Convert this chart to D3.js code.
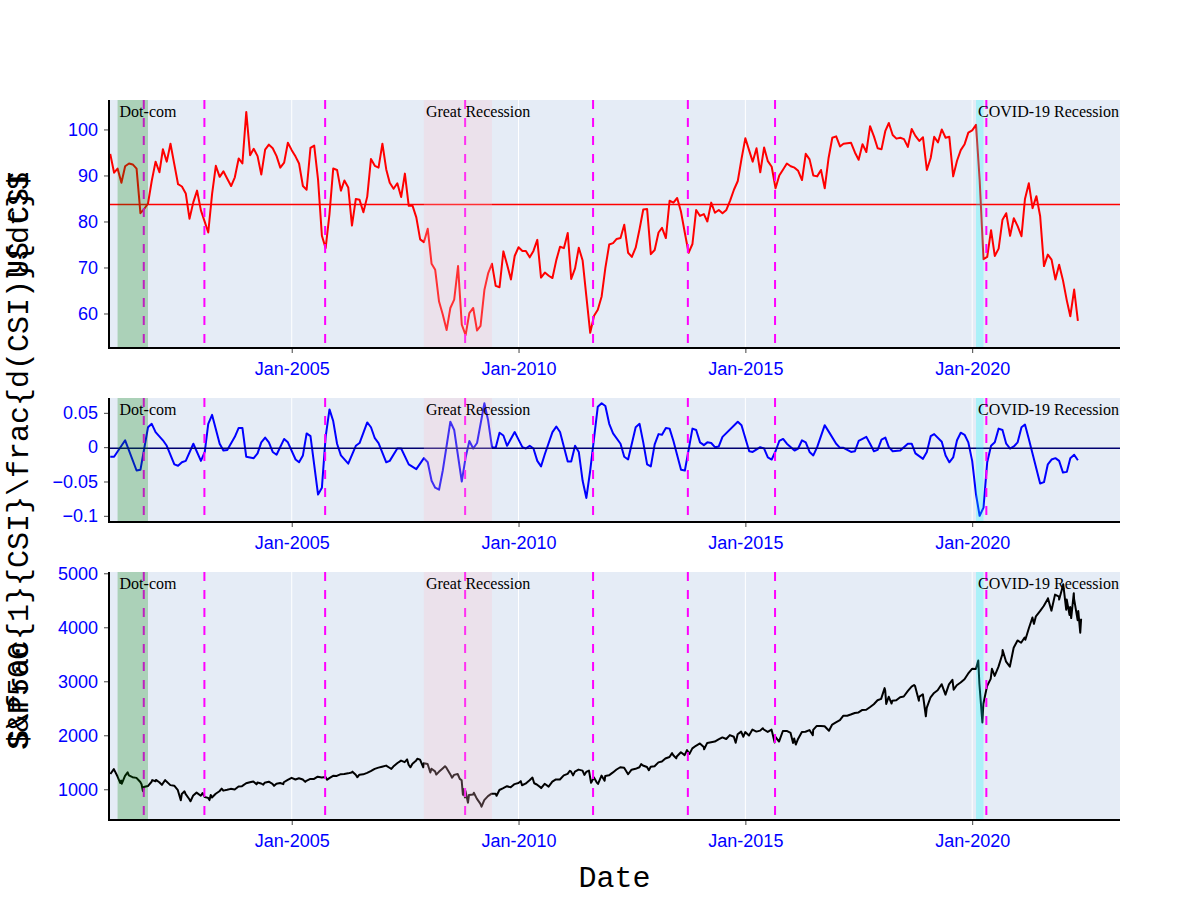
<!DOCTYPE html>
<html><head><meta charset="utf-8">
<script src="https://cdn.jsdelivr.net/npm/d3@7"></script>
<style>body{margin:0;background:#fff} svg{display:block}</style>
</head><body><svg id="c" width="1200" height="900"></svg>
<script>
// ---------------- DATA ----------------
// University of Michigan consumer sentiment index, monthly, Jan 2001 .. May 2022
const csiStart = "2001-01";
const csiValues = [
 94.7,90.6,91.5,88.4,92.0,92.6,92.4,91.5,81.8,82.7,83.9,88.8,
 93.0,90.7,95.7,93.0,96.9,92.4,88.1,87.6,86.1,80.6,84.2,86.7,
 82.4,79.9,77.6,86.0,92.1,89.7,90.9,89.3,87.7,89.6,93.7,92.6,
 103.8,94.4,95.8,94.2,90.2,95.6,96.7,95.9,94.2,91.7,92.8,97.1,
 95.5,94.1,92.6,87.7,86.9,96.0,96.5,89.1,76.9,74.2,81.6,91.5,
 91.2,86.7,88.9,87.4,79.1,84.9,84.7,82.0,85.4,93.6,92.1,91.7,
 96.9,91.3,88.4,87.1,88.3,85.3,90.4,83.4,83.4,80.9,76.1,75.5,
 78.4,70.8,69.5,62.6,59.8,56.4,61.2,63.0,70.3,57.6,55.3,60.1,
 61.2,56.3,57.3,65.1,68.7,70.8,66.0,65.7,73.5,70.6,67.4,72.5,
 74.4,73.6,73.6,72.2,73.6,76.0,67.8,68.9,68.2,67.7,71.6,74.5,
 74.2,77.5,67.5,69.8,74.3,71.5,63.7,55.8,59.5,60.8,63.7,69.9,
 75.0,75.3,76.2,76.4,79.3,73.2,72.3,74.3,78.3,82.6,82.7,72.9,
 73.8,77.6,78.6,76.4,84.5,84.1,85.1,82.1,77.5,73.2,75.1,82.5,
 81.2,81.6,80.0,84.1,81.9,82.5,81.8,82.5,84.6,86.9,88.8,93.6,
 98.1,95.4,93.0,95.9,90.7,96.1,93.1,91.9,87.2,90.0,91.3,92.6,
 92.0,91.7,91.0,89.0,94.7,93.5,90.0,89.8,91.2,87.2,93.8,98.2,
 98.5,96.3,96.9,97.0,97.1,95.0,93.4,96.8,95.1,100.7,98.5,95.9,
 95.7,99.7,101.4,98.8,98.0,98.2,97.9,96.2,100.1,98.6,97.5,98.3,
 91.2,93.8,98.4,97.2,100.0,98.2,98.4,89.8,93.2,95.5,96.8,99.3,
 99.8,101.0,89.1,71.8,72.3,78.1,72.5,74.1,80.4,81.8,76.9,80.7,
 79.0,76.8,84.9,88.3,82.9,85.5,81.2,70.3,72.8,71.7,67.4,70.6,
 67.2,62.8,59.4,65.2,58.4
];
const csiMean = 83.7;

// (1/CSI) d(CSI)/dt
const derivDates = [
 "2001-01","2001-02","2001-05","2001-08","2001-09","2001-11","2001-12",
 "2002-01","2002-03","2002-04","2002-06","2002-07","2002-08","2002-09","2002-11",
 "2003-01","2003-02","2003-03","2003-04","2003-06","2003-07","2003-08","2003-10","2003-11","2003-12",
 "2004-01","2004-03","2004-04","2004-05","2004-06","2004-07","2004-08","2004-09","2004-11","2004-12",
 "2005-02","2005-03","2005-04","2005-05","2005-06","2005-08","2005-09","2005-10","2005-11","2005-12",
 "2006-01","2006-02","2006-04","2006-06","2006-07","2006-09","2006-10","2006-11","2006-12",
 "2007-02","2007-03","2007-05","2007-06","2007-08","2007-10","2007-12",
 "2008-01","2008-02","2008-03","2008-04","2008-05","2008-07","2008-08","2008-10","2008-11","2008-12",
 "2009-01","2009-02","2009-04","2009-05","2009-06","2009-07","2009-08","2009-09","2009-10","2009-12",
 "2010-01","2010-02","2010-03","2010-04","2010-05","2010-06","2010-07","2010-08","2010-10","2010-11","2010-12",
 "2011-02","2011-03","2011-04","2011-05","2011-06","2011-07","2011-08","2011-10","2011-11","2011-12",
 "2012-01","2012-02","2012-04","2012-05","2012-06","2012-08","2012-09","2012-10","2012-11","2012-12",
 "2013-01","2013-02","2013-03","2013-04","2013-05","2013-06","2013-08","2013-09","2013-11","2013-12",
 "2014-01","2014-02","2014-03","2014-04","2014-05","2014-06","2014-07","2014-11","2014-12",
 "2015-02","2015-03","2015-05","2015-06","2015-07","2015-08","2015-09","2015-10","2015-11","2015-12",
 "2016-02","2016-03","2016-04","2016-05","2016-06","2016-07","2016-08","2016-10","2016-11",
 "2017-01","2017-02","2017-03","2017-05","2017-06","2017-07","2017-09","2017-10","2017-11","2017-12",
 "2018-01","2018-02","2018-03","2018-04","2018-06","2018-08","2018-09","2018-10","2018-12",
 "2019-01","2019-02","2019-03","2019-05","2019-06","2019-07","2019-08","2019-09","2019-10","2019-11","2019-12",
 "2020-01","2020-02","2020-03","2020-04","2020-05","2020-06","2020-07","2020-08","2020-09","2020-10","2020-11","2020-12",
 "2021-01","2021-02","2021-03","2021-04","2021-07","2021-08","2021-09","2021-10","2021-11","2021-12",
 "2022-01","2022-02","2022-03","2022-04","2022-05"
];
const derivValues = [
 -0.014,-0.014,0.010,-0.034,-0.033,0.029,0.034,
 0.022,0.010,0.002,-0.025,-0.027,-0.022,-0.020,0.005,
 -0.020,-0.007,0.034,0.047,0.005,-0.005,-0.004,0.015,0.028,0.028,
 -0.014,-0.016,-0.009,0.007,0.014,0.007,-0.007,-0.011,0.012,0.007,
 -0.018,-0.022,-0.012,0.020,0.016,-0.069,-0.059,0.015,0.055,0.038,
 0.005,-0.012,-0.024,0.002,0.006,0.036,0.029,0.013,0.006,
 -0.022,-0.020,-0.002,-0.002,-0.025,-0.032,-0.016,
 -0.022,-0.049,-0.059,-0.062,-0.034,0.037,0.025,-0.050,-0.015,0.009,
 -0.002,0.006,0.064,0.039,0.000,-0.001,0.021,0.017,0.002,0.022,
 0.011,0.000,-0.002,0.002,-0.002,-0.020,-0.028,-0.010,0.022,0.030,0.022,
 -0.021,-0.021,0.002,-0.007,-0.049,-0.074,-0.034,0.059,0.064,0.060,
 0.034,0.020,0.005,-0.014,-0.018,0.029,0.034,0.007,-0.025,-0.028,
 0.004,0.019,0.018,0.028,0.027,0.009,-0.033,-0.034,0.027,0.025,
 0.007,0.003,0.007,0.006,0.000,0.001,0.015,0.037,0.032,
 -0.006,-0.007,0.000,-0.002,-0.015,-0.018,-0.006,0.009,0.012,0.005,
 -0.005,-0.002,0.010,0.007,-0.007,-0.012,0.000,0.032,0.023,
 0.005,-0.001,-0.001,-0.007,-0.006,0.009,0.015,0.005,-0.006,-0.004,
 0.011,0.014,0.000,-0.006,-0.005,0.005,0.005,-0.009,-0.017,
 -0.007,0.016,0.019,0.008,-0.012,-0.022,-0.015,0.010,0.021,0.018,0.007,
 -0.020,-0.069,-0.100,-0.088,-0.022,0.002,0.007,0.027,0.025,0.005,-0.002,0.001,
 0.007,0.029,0.033,0.012,-0.053,-0.051,-0.025,-0.018,-0.016,-0.020,
 -0.037,-0.036,-0.016,-0.011,-0.019
];
const derivMean = -0.0015;

// S&P 500 close
const spDates = [
 "2001-01-02","2001-01-30","2001-02-28","2001-03-22","2001-03-30","2001-04-04","2001-04-30","2001-05-21","2001-05-31","2001-06-29",
 "2001-07-31","2001-08-31","2001-09-10","2001-09-21","2001-09-28","2001-10-31","2001-11-30","2001-12-05","2001-12-31",
 "2002-01-04","2002-01-31","2002-02-21","2002-02-28","2002-03-19","2002-03-28","2002-04-30","2002-05-31","2002-06-28","2002-07-23",
 "2002-07-31","2002-08-22","2002-08-30","2002-09-30","2002-10-09","2002-10-31","2002-11-27","2002-12-31",
 "2003-01-14","2003-01-31","2003-02-28","2003-03-11","2003-03-21","2003-03-31","2003-04-30","2003-05-30","2003-06-17","2003-06-30",
 "2003-07-31","2003-08-29","2003-09-30","2003-10-31","2003-11-28","2003-12-31",
 "2004-01-30","2004-02-27","2004-03-24","2004-03-31","2004-04-30","2004-05-17","2004-05-28","2004-06-30","2004-07-30","2004-08-12",
 "2004-08-31","2004-09-30","2004-10-25","2004-10-29","2004-11-30","2004-12-31",
 "2005-01-31","2005-02-28","2005-03-31","2005-04-20","2005-04-29","2005-05-31","2005-06-30","2005-07-29","2005-08-31","2005-09-30",
 "2005-10-13","2005-10-31","2005-11-30","2005-12-30",
 "2006-01-31","2006-02-28","2006-03-31","2006-04-28","2006-05-05","2006-05-31","2006-06-13","2006-06-30","2006-07-31","2006-08-31",
 "2006-09-29","2006-10-31","2006-11-30","2006-12-29",
 "2007-01-31","2007-02-27","2007-03-14","2007-03-30","2007-04-30","2007-05-31","2007-06-29","2007-07-19","2007-07-31","2007-08-15",
 "2007-08-31","2007-09-28","2007-10-09","2007-10-31","2007-11-26","2007-11-30","2007-12-31",
 "2008-01-22","2008-01-31","2008-02-29","2008-03-10","2008-03-31","2008-04-30","2008-05-19","2008-05-30","2008-06-30","2008-07-15",
 "2008-07-31","2008-08-29","2008-09-15","2008-09-30","2008-10-10","2008-10-13","2008-10-27","2008-10-31","2008-11-20","2008-11-28","2008-12-31",
 "2009-01-06","2009-01-30","2009-02-27","2009-03-09","2009-03-31","2009-04-30","2009-05-29","2009-06-30","2009-07-08","2009-07-31",
 "2009-08-31","2009-09-30","2009-10-30","2009-11-30","2009-12-31",
 "2010-01-19","2010-01-29","2010-02-26","2010-03-31","2010-04-23","2010-05-07","2010-05-28","2010-06-30","2010-07-02","2010-07-30",
 "2010-08-31","2010-09-30","2010-10-29","2010-11-30","2010-12-31",
 "2011-01-31","2011-02-18","2011-02-28","2011-03-16","2011-03-31","2011-04-29","2011-05-31","2011-06-15","2011-06-30","2011-07-22",
 "2011-08-08","2011-08-31","2011-09-22","2011-10-03","2011-10-31","2011-11-25","2011-11-30","2011-12-30",
 "2012-01-31","2012-02-29","2012-03-30","2012-04-30","2012-06-01","2012-06-29","2012-07-31","2012-08-31","2012-09-14","2012-09-28",
 "2012-10-31","2012-11-15","2012-11-30","2012-12-31",
 "2013-01-31","2013-02-28","2013-03-28","2013-04-30","2013-05-21","2013-05-31","2013-06-24","2013-06-28","2013-07-31","2013-08-30",
 "2013-09-18","2013-09-30","2013-10-08","2013-10-31","2013-11-29","2013-12-31",
 "2014-01-31","2014-02-03","2014-02-28","2014-03-31","2014-04-30","2014-05-30","2014-06-30","2014-07-31","2014-08-29","2014-09-30",
 "2014-10-15","2014-10-31","2014-11-28","2014-12-16","2014-12-31",
 "2015-01-30","2015-02-27","2015-03-31","2015-04-30","2015-05-21","2015-05-29","2015-06-30","2015-07-31","2015-08-25","2015-08-31",
 "2015-09-29","2015-10-30","2015-11-30","2015-12-31",
 "2016-01-20","2016-01-29","2016-02-11","2016-02-29","2016-03-31","2016-04-29","2016-05-31","2016-06-27","2016-06-30","2016-07-29",
 "2016-08-31","2016-09-30","2016-11-04","2016-11-30","2016-12-30",
 "2017-01-31","2017-02-28","2017-03-31","2017-04-28","2017-05-31","2017-06-30","2017-07-31","2017-08-31","2017-09-29","2017-10-31",
 "2017-11-30","2017-12-29",
 "2018-01-26","2018-01-31","2018-02-08","2018-02-28","2018-03-23","2018-03-29","2018-04-30","2018-05-31","2018-06-29","2018-07-31",
 "2018-08-31","2018-09-20","2018-09-28","2018-10-29","2018-10-31","2018-11-30","2018-12-24","2018-12-31",
 "2019-01-31","2019-02-28","2019-03-29","2019-04-30","2019-05-31","2019-06-28","2019-07-26","2019-08-05","2019-08-30","2019-09-30",
 "2019-10-31","2019-11-29","2019-12-31",
 "2020-01-31","2020-02-19","2020-02-28","2020-03-23","2020-03-31","2020-04-30","2020-05-29","2020-06-08","2020-06-30","2020-07-31",
 "2020-08-31","2020-09-02","2020-09-30","2020-10-30","2020-11-30","2020-12-31",
 "2021-01-29","2021-02-26","2021-03-04","2021-03-31","2021-04-30","2021-05-12","2021-05-28","2021-06-30","2021-07-30","2021-08-31",
 "2021-09-02","2021-09-30","2021-10-29","2021-11-30","2021-12-01","2021-12-31",
 "2022-01-03","2022-01-27","2022-01-31","2022-02-23","2022-02-28","2022-03-08","2022-03-29","2022-03-31","2022-04-29","2022-05-04",
 "2022-05-20","2022-05-27"
];
const spValues = [
 1283,1374,1240,1117,1160,1103,1249,1313,1256,1224,
 1211,1134,1093,966,1041,1060,1139,1170,1148,
 1173,1130,1081,1107,1170,1147,1077,1067,990,797,
 912,962,916,815,777,886,938,880,
 931,856,841,800,895,848,917,964,1011,975,
 990,1008,996,1051,1058,1112,
 1131,1145,1091,1126,1107,1084,1121,1141,1102,1064,
 1104,1115,1095,1130,1174,1212,
 1181,1204,1181,1137,1157,1192,1191,1234,1220,1229,
 1177,1207,1249,1248,
 1280,1281,1295,1311,1326,1270,1223,1270,1277,1304,
 1336,1378,1401,1418,
 1438,1399,1377,1421,1482,1531,1503,1553,1455,1407,
 1474,1527,1565,1549,1407,1481,1468,
 1310,1379,1331,1273,1323,1386,1427,1400,1280,1214,
 1267,1283,1193,1166,899,1003,848,969,752,896,903,
 935,826,735,677,798,873,919,919,879,987,
 1021,1057,1036,1096,1115,
 1150,1074,1104,1169,1217,1111,1089,1031,1022,1102,
 1049,1141,1183,1181,1258,
 1286,1343,1327,1257,1326,1364,1345,1266,1321,1345,
 1119,1219,1129,1099,1253,1159,1247,1258,
 1312,1366,1408,1398,1278,1362,1379,1407,1466,1441,
 1412,1353,1416,1426,
 1498,1515,1569,1598,1669,1631,1573,1606,1686,1633,
 1726,1682,1656,1757,1806,1848,
 1783,1742,1859,1872,1884,1924,1960,1931,2003,1972,
 1862,2018,2068,1973,2059,
 1995,2105,2068,2086,2131,2107,2063,2104,1868,1972,
 1884,2079,2080,2044,
 1859,1940,1829,1932,2060,2065,2097,2001,2099,2174,
 2171,2168,2085,2199,2239,
 2279,2364,2363,2384,2412,2423,2470,2472,2519,2575,
 2648,2674,
 2873,2824,2581,2714,2588,2641,2648,2705,2718,2816,
 2902,2931,2914,2641,2712,2760,2351,2507,
 2704,2784,2834,2946,2752,2942,3026,2845,2926,2977,
 3038,3141,3231,
 3226,3386,2954,2237,2585,2912,3044,3232,3100,3271,
 3500,3580,3363,3270,3622,3756,
 3714,3811,3768,3973,4181,4063,4204,4298,4395,4523,
 4537,4308,4605,4567,4513,4766,
 4797,4326,4516,4226,4374,4171,4632,4530,4132,4300,
 3901,4158
];

const recessionNames  = ["Dot-com","Great Recession","COVID-19 Recession"];
const recessionStarts = ["2001-03-01","2007-12-01","2020-02-01"];
const recessionEnds   = ["2001-11-01","2009-06-01","2020-04-01"];
const eventDates = ["2001-09-28","2003-01-29","2005-09-27","2008-10-28","2011-08-24","2013-09-25","2015-08-28","2020-04-24"];

const xTickDates  = ["2005-01-01","2010-01-01","2015-01-01","2020-01-01"];
const xTickLabels = ["Jan-2005","Jan-2010","Jan-2015","Jan-2020"];
const csiTicks = [60,70,80,90,100];
const derivTicks = [0.05,0,-0.05,-0.1];
const derivTickLabels = ["0.05","0","\u22120.05","\u22120.1"];
const spTicks = [1000,2000,3000,4000,5000];
const yTitles = ["US CSI","$\\frac{1}{CSI}\\frac{d(CSI)}{dt}$","S&P500"];
const xTitle = "Date";

// ---------------- DRAW ----------------
const parseDay = d3.utcParse("%Y-%m-%d");
const parseMonth = d3.utcParse("%Y-%m");
const svg = d3.select("#c");
const L = 109, R = 1120;
const x = d3.scaleUtc().domain([parseDay("2000-12-22"), parseDay("2023-04-05")]).range([L, R]);

const csi0 = parseMonth(csiStart);
const csiData = csiValues.map((v,i)=>({d:d3.utcMonth.offset(csi0,i), v}));
const derivData = derivDates.map((s,i)=>({d:parseMonth(s), v:derivValues[i]}));
const spData = spDates.map((s,i)=>({d:parseDay(s), v:spValues[i]}));

const shadeFill = ["green","pink","cyan"];
const tickFont = "'Liberation Sans', Arial, sans-serif";
const monoFont = "'Liberation Mono', 'Courier New', monospace";
const serifFont = "'Liberation Serif', 'Times New Roman', serif";

const panels = [
  {top:100, bottom:348, domain:[52.5,106.4], data:csiData, color:"red", mean:csiMean, meanColor:"red",
   ticks:csiTicks, labels:csiTicks.map(String), title:yTitles[0]},
  {top:398, bottom:522, domain:[-0.109,0.0716], data:derivData, color:"blue", mean:derivMean, meanColor:"#000070",
   ticks:derivTicks, labels:derivTickLabels, title:yTitles[1]},
  {top:572, bottom:820, domain:[431,5024], data:spData, color:"black", mean:null,
   ticks:spTicks, labels:spTicks.map(String), title:yTitles[2]}
];

panels.forEach((p,pi)=>{
  const y = d3.scaleLinear().domain(p.domain).range([p.bottom, p.top]);
  const g = svg.append("g");
  const clipId = "clip"+pi;
  svg.append("clipPath").attr("id",clipId).append("rect")
    .attr("x",L).attr("y",p.top).attr("width",R-L).attr("height",p.bottom-p.top);

  g.append("rect").attr("x",L).attr("y",p.top).attr("width",R-L).attr("height",p.bottom-p.top)
    .attr("fill","#E5ECF6");
  // vertical grid
  g.selectAll(".grid").data(xTickDates).join("line")
    .attr("x1",d=>x(parseDay(d))).attr("x2",d=>x(parseDay(d)))
    .attr("y1",p.top).attr("y2",p.bottom).attr("stroke","#fff").attr("stroke-width",1);

  const inner = g.append("g").attr("clip-path",`url(#${clipId})`);
  const line = d3.line().x(d=>x(d.d)).y(d=>y(d.v));
  inner.append("path").datum(p.data).attr("d",line).attr("fill","none")
    .attr("stroke",p.color).attr("stroke-width",2).attr("stroke-linejoin","round");
  if(p.mean!==null){
    inner.append("line").attr("x1",L).attr("x2",R).attr("y1",y(p.mean)).attr("y2",y(p.mean))
      .attr("stroke",p.meanColor).attr("stroke-width",1.5);
  }
  inner.selectAll(".ev").data(eventDates).join("line")
    .attr("x1",d=>x(parseDay(d))).attr("x2",d=>x(parseDay(d)))
    .attr("y1",p.top).attr("y2",p.bottom)
    .attr("stroke","magenta").attr("stroke-width",2).attr("stroke-dasharray","9,9");
  inner.selectAll(".rec").data(recessionStarts).join("rect")
    .attr("x",d=>x(parseDay(d))).attr("y",p.top)
    .attr("width",(d,i)=>x(parseDay(recessionEnds[i]))-x(parseDay(d)))
    .attr("height",p.bottom-p.top)
    .attr("fill",(d,i)=>shadeFill[i]).attr("opacity",0.25);
  g.selectAll(".ann").data(recessionNames).join("text")
    .attr("x",(d,i)=>x(parseDay(recessionStarts[i]))+2).attr("y",p.top+11)
    .attr("dy","0.35em").attr("font-family",serifFont).attr("font-size",16).attr("fill","#000")
    .text(d=>d);

  // axes
  const yAxis = d3.axisLeft(y).tickValues(p.ticks).tickFormat((d,i)=>p.labels[i])
    .tickSize(5).tickPadding(6).tickSizeOuter(0);
  const ya = svg.append("g").attr("transform",`translate(${L},0)`).call(yAxis);
  ya.select(".domain").remove();
  ya.selectAll(".tick line").attr("stroke","#444");
  ya.selectAll(".tick text").attr("fill","blue").attr("font-size",18).attr("font-family",tickFont);

  const xAxis = d3.axisBottom(x).tickValues(xTickDates.map(parseDay))
    .tickFormat((d,i)=>xTickLabels[i]).tickSize(5).tickPadding(9).tickSizeOuter(0);
  const xa = svg.append("g").attr("transform",`translate(0,${p.bottom})`).call(xAxis);
  xa.select(".domain").remove();
  xa.selectAll(".tick line").attr("stroke","#444");
  xa.selectAll(".tick text").attr("fill","blue").attr("font-size",18).attr("font-family",tickFont);

  svg.append("line").attr("x1",L).attr("x2",L).attr("y1",p.top).attr("y2",p.bottom+1)
    .attr("stroke","#000").attr("stroke-width",2);
  svg.append("line").attr("x1",L-1).attr("x2",R).attr("y1",p.bottom).attr("y2",p.bottom)
    .attr("stroke","#000").attr("stroke-width",2);

  svg.append("text").attr("transform",`translate(28,${(p.top+p.bottom)/2}) rotate(-90)`)
    .attr("text-anchor","middle").attr("font-family",monoFont).attr("font-size",30)
    .attr("fill","#000").text(p.title);
});

svg.append("text").attr("x",(L+R)/2).attr("y",887).attr("text-anchor","middle")
  .attr("font-family",monoFont).attr("font-size",30).attr("fill","#000").text(xTitle);
</script>
</body></html>
